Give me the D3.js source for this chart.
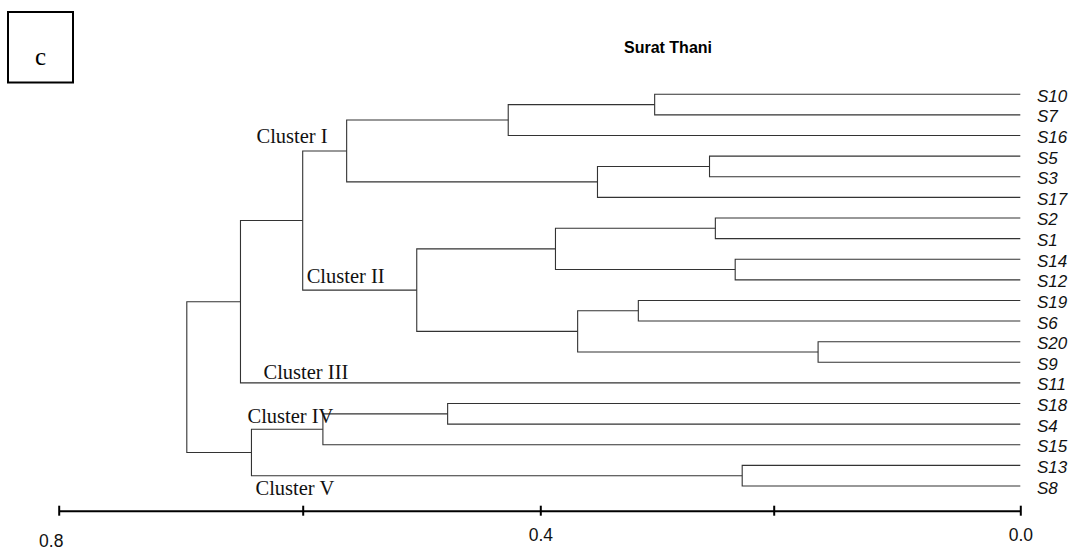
<!DOCTYPE html>
<html>
<head>
<meta charset="utf-8">
<script src="https://cdn.jsdelivr.net/npm/d3@7"></script>
<style>
  html, body { margin: 0; padding: 0; background: #fff; }
  svg { display: block; }
</style>
</head>
<body>
<svg id="chart" width="1075" height="550"></svg>
<script>
// Leaf order, top to bottom
const leaves = ["S10","S7","S16","S5","S3","S17","S2","S1","S14","S12",
                "S19","S6","S20","S9","S11","S18","S4","S15","S13","S8"];

// Agglomeration steps: [node id, first child, second child, joining distance]
const merges = [
  ["a",   "S10", "S7",  0.302],
  ["b",   "a",   "S16", 0.427],
  ["c",   "S5",  "S3",  0.255],
  ["d",   "c",   "S17", 0.351],
  ["CI",  "b",   "d",   0.563],
  ["e",   "S2",  "S1",  0.250],
  ["f",   "S14", "S12", 0.233],
  ["g",   "e",   "f",   0.387],
  ["h",   "S19", "S6",  0.316],
  ["i",   "S20", "S9",  0.164],
  ["j",   "h",   "i",   0.368],
  ["CII", "g",   "j",   0.504],
  ["k",   "CI",  "CII", 0.600],
  ["l",   "k",   "S11", 0.651],
  ["m",   "S18", "S4",  0.478],
  ["CIV", "m",   "S15", 0.583],
  ["CV",  "S13", "S8",  0.227],
  ["n",   "CIV", "CV",  0.642],
  ["root","l",   "n",   0.695]
];

// Axis ticks, and the subset that carries a label
const tickValues = [0.8, 0.6, 0.4, 0.2, 0.0];
const labelledTicks = [0.8, 0.4, 0.0];

// Cluster names and the node each one labels
const clusterNodes = ["CI", "CII", "S11", "CIV", "CV"];
const clusterNames = ["Cluster I", "Cluster II", "Cluster III", "Cluster IV", "Cluster V"];

const title = "Surat Thani";
const panelLetter = "c";

// ---- build tree ----
const byId = new Map();
leaves.forEach(id => byId.set(id, { id, height: 0, children: null }));
merges.forEach(([id, l, r, h]) => {
  byId.set(id, { id, height: h, children: [byId.get(l), byId.get(r)] });
});
const root = d3.hierarchy(byId.get("root"), d => d.children);

// ---- scales ----
// distance axis runs right-to-left; piecewise so each tick sits on its drawn mark
const x = d3.scaleLinear()
  .domain(tickValues)
  .range([58.7, 302.7, 540.3, 773.7, 1020.3]);
const y = d3.scalePoint().domain(leaves).range([94.3, 486]);

root.eachAfter(node => {
  node.px = x(node.data.height);
  node.py = node.children ? d3.mean(node.children, c => c.py) : y(node.data.id);
});

const svg = d3.select("#chart");

// ---- dendrogram links (elbows) ----
const linkPath = node => {
  const [a, b] = node.children;
  return `M${a.px},${a.py}H${node.px}V${b.py}H${b.px}`;
};
svg.append("g")
  .attr("fill", "none")
  .attr("stroke", "#333")
  .attr("stroke-width", 1.1)
  .selectAll("path")
  .data(root.descendants().filter(d => d.children))
  .join("path")
  .attr("d", linkPath);

// ---- leaf labels ----
svg.append("g")
  .selectAll("text")
  .data(root.leaves())
  .join("text")
  .attr("x", 1037)
  .attr("y", d => d.py + 7.5)
  .attr("font-family", "Liberation Sans, Arial, sans-serif")
  .attr("font-style", "italic")
  .attr("font-size", 17)
  .attr("fill", "#111")
  .text(d => d.data.id);

// ---- cluster labels, placed beside their branch ----
const nodeById = new Map(root.descendants().map(d => [d.data.id, d]));
const labelPlacement = {
  "CI":  n => ({ x: n.px - 19, y: n.py - 8, anchor: "end" }),
  "CII": n => ({ x: n.parent.px + 4, y: n.py - 7.5, anchor: "start" }),
  "S11": n => ({ x: n.parent.px + 23, y: n.py - 4, anchor: "start" }),
  "CIV": n => ({ x: n.parent.px - 4, y: n.py - 6.5, anchor: "start" }),
  "CV":  n => ({ x: n.parent.px + 4, y: n.py + 19.5, anchor: "start" })
};
svg.append("g")
  .selectAll("text")
  .data(clusterNodes.map((id, i) => ({ id, name: clusterNames[i] })))
  .join("text")
  .each(function (d) {
    const p = labelPlacement[d.id](nodeById.get(d.id));
    d3.select(this)
      .attr("x", p.x)
      .attr("y", p.y)
      .attr("text-anchor", p.anchor);
  })
  .attr("font-family", "Liberation Serif, Times New Roman, serif")
  .attr("font-size", 20.5)
  .attr("fill", "#111")
  .text(d => d.name);

// ---- distance axis ----
const axisY = 510.7;
const fmt = d3.format(".1f");
const axisG = svg.append("g")
  .attr("transform", `translate(0,${axisY})`)
  .call(d3.axisBottom(x)
    .tickValues(tickValues)
    .tickFormat(d => labelledTicks.includes(d) ? fmt(d) : "")
    .tickSizeOuter(0));
axisG.select(".domain").attr("stroke", "#000").attr("stroke-width", 2);
axisG.selectAll(".tick line")
  .attr("y1", -5).attr("y2", 5)
  .attr("stroke", "#000").attr("stroke-width", 2);
axisG.selectAll(".tick text")
  .attr("y", 30)
  .attr("dy", 0)
  .attr("font-family", "Liberation Sans, Arial, sans-serif")
  .attr("font-size", 17.5)
  .attr("fill", "#111");
axisG.selectAll(".tick text")
  .filter(d => d === 0.8)
  .attr("transform", "translate(-8,6)");

// ---- title ----
svg.append("text")
  .attr("x", 624)
  .attr("y", 52.5)
  .attr("font-family", "Liberation Sans, Arial, sans-serif")
  .attr("font-weight", "bold")
  .attr("font-size", 16)
  .attr("fill", "#000")
  .text(title);

// ---- panel letter box ----
svg.append("rect")
  .attr("x", 8).attr("y", 12)
  .attr("width", 65).attr("height", 70.5)
  .attr("fill", "none")
  .attr("stroke", "#000")
  .attr("stroke-width", 2);
svg.append("text")
  .attr("x", 40.5)
  .attr("y", 65)
  .attr("text-anchor", "middle")
  .attr("font-family", "Liberation Serif, Times New Roman, serif")
  .attr("font-size", 25)
  .attr("fill", "#000")
  .text(panelLetter);
</script>
</body>
</html>
